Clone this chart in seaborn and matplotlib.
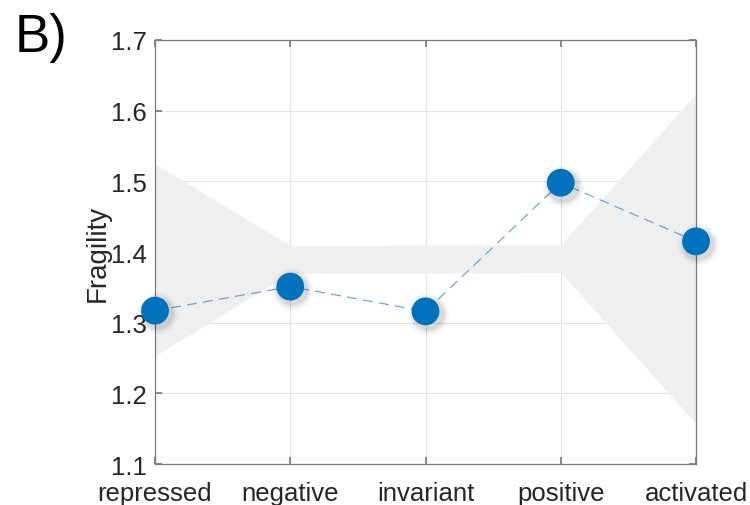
import matplotlib.pyplot as plt
import numpy as np
import pandas as pd
import seaborn as sns

# Data
categories = ["repressed", "negative", "invariant", "positive", "activated"]
fragility = [1.317, 1.351, 1.316, 1.498, 1.415]
band_upper = [1.525, 1.409, 1.410, 1.410, 1.624]
band_lower = [1.253, 1.370, 1.370, 1.371, 1.157]

sns.set_theme(style="white")
plt.rcParams["font.family"] = ["Liberation Sans", "DejaVu Sans"]

df = pd.DataFrame({"pos": np.arange(len(categories)), "fragility": fragility})

fig = plt.figure(figsize=(7.5, 5.06), dpi=100)
ax = fig.add_axes([0.2067, 0.081, 0.7213, 0.838])

ax.fill_between(df["pos"], band_lower, band_upper, color="#efefef", linewidth=0, zorder=1)

sns.lineplot(
    data=df, x="pos", y="fragility", ax=ax,
    color="#6fa6d8", linestyle=(0, (8, 5)), linewidth=0.9, zorder=2,
)
# soft halo behind the markers
for s, a in [(900, 0.03), (700, 0.05), (540, 0.07)]:
    ax.scatter(df["pos"] + 0.015, df["fragility"] - 0.004, s=s, color="black",
               alpha=a, linewidths=0, zorder=3, clip_on=False)
sns.scatterplot(
    data=df, x="pos", y="fragility", ax=ax,
    s=400, color="#0072bd", edgecolor="none", zorder=4, clip_on=False,
)

ax.set_xlim(0, len(categories) - 1)
ax.set_ylim(1.1, 1.7)
ax.set_xticks(df["pos"])
ax.set_xticklabels(categories)
ax.set_yticks(np.arange(1.1, 1.71, 0.1))
ax.set_yticklabels([f"{v:.1f}" for v in np.arange(1.1, 1.71, 0.1)])
ax.set_xlabel("")
ax.set_ylabel("Fragility", fontsize=20, color="#262626", labelpad=0)

ax.grid(True, color="#e3e3e3", linewidth=0.8)
ax.set_axisbelow(True)
for side in ["left", "bottom", "right", "top"]:
    ax.spines[side].set_visible(True)
    ax.spines[side].set_color("#7a7a7a")
    ax.spines[side].set_linewidth(0.9)
ax.tick_params(direction="in", length=5, color="#7a7a7a", labelsize=18.5,
               labelcolor="#262626", left=True, bottom=True, right=True, top=True,
               labelright=False, labeltop=False)
ax.tick_params(axis="y", pad=6)
ax.tick_params(axis="x", pad=12)

fig.text(0.02, 0.975, "B)", fontsize=38, ha="left", va="top", color="black")

fig.savefig("out.png", dpi=100)
